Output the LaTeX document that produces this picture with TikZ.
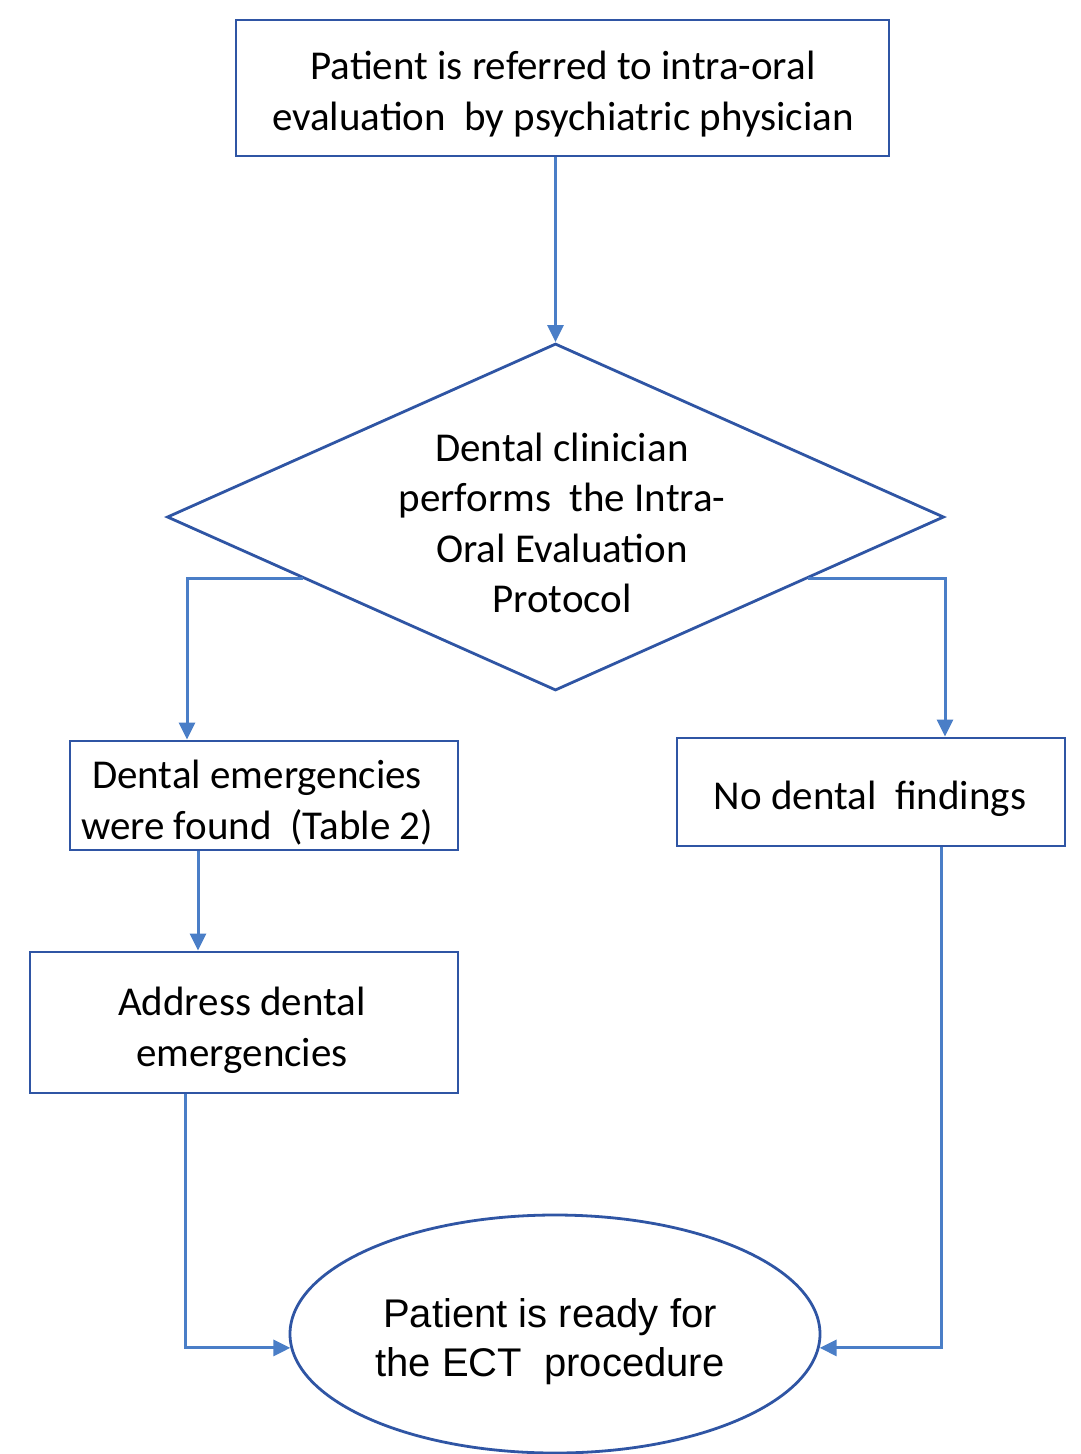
\documentclass[tikz,border=0pt]{standalone}
\usepackage{fontspec}
\setmainfont{Carlito}
\newfontfamily\arialf{Liberation Sans}
\usetikzlibrary{shapes.geometric,arrows.meta,calc}
\definecolor{boxblue}{HTML}{2F55A4}
\definecolor{arrblue}{HTML}{4A7EC7}
\begin{document}
\begin{tikzpicture}[x=1pt,y=-1pt,
  box/.style={draw=boxblue,line width=2.8pt,inner sep=0pt},
  txt/.style={align=center,font=\fontsize{41}{51}\selectfont,inner sep=0pt},
  arr/.style={draw=arrblue,line width=3pt,-{Triangle[length=17pt,width=16pt]}}]
\useasboundingbox (0,0) rectangle (1080,1454);
\fill[white] (0,0) rectangle (1080,1454);
\node[box,minimum width=653,minimum height=136] (top) at (562.5,88) {};
\node[txt] (topt) at (563,94) {Patient is referred to intra-oral\\evaluation\ \ by psychiatric physician};
\node[diamond,draw=boxblue,line width=2.8pt,minimum width=777,minimum height=347,inner sep=0pt] (dia) at (555.5,517) {};
\node[txt,font=\fontsize{41}{50.5}\selectfont] (diat) at (562,523) {Dental clinician\\performs\ \ the Intra-\\Oral Evaluation\\Protocol};
\node[box,minimum width=388,minimum height=109] (lbox) at (264,795.5) {};
\node[txt] (lboxt) at (257,803) {Dental emergencies\\were found\ \ (Table 2)};
\node[box,minimum width=388,minimum height=108] (rbox) at (871,792) {};
\node[txt] (rboxt) at (870,799) {No dental\ \ findings};
\node[box,minimum width=428,minimum height=141] (abox) at (244,1022.5) {};
\node[txt] (aboxt) at (242,1030) {Address dental\\emergencies};
\node[ellipse,draw=boxblue,line width=2.8pt,minimum width=530,minimum height=238,inner sep=0pt] (el) at (555,1334) {};
\node[txt,font=\arialf\fontsize{40}{49}\selectfont] (elt) at (550,1342) {Patient is ready for\\the ECT\ \ procedure};
\coordinate (dl) at ($(dia.west)!0.353!(dia.south)$);
\coordinate (dr) at ($(dia.east)!0.353!(dia.south)$);
\coordinate (lx) at (187,0);
\coordinate (rx) at (945,0);
\coordinate (ax) at (198,0);
\coordinate (bx) at (185,0);
\coordinate (cx) at (941,0);
\draw[arr] (dia.north |- top.south) -- (dia.north);
\draw[arr] (dl) -| (lx |- lbox.north);
\draw[arr] (dr) -| (rx |- rbox.north);
\draw[arr] (ax |- lbox.south) -- (ax |- abox.north);
\draw[arr] (bx |- abox.south) |- (el.183);
\draw[arr] (cx |- rbox.south) |- (el.357);
\end{tikzpicture}
\end{document}
